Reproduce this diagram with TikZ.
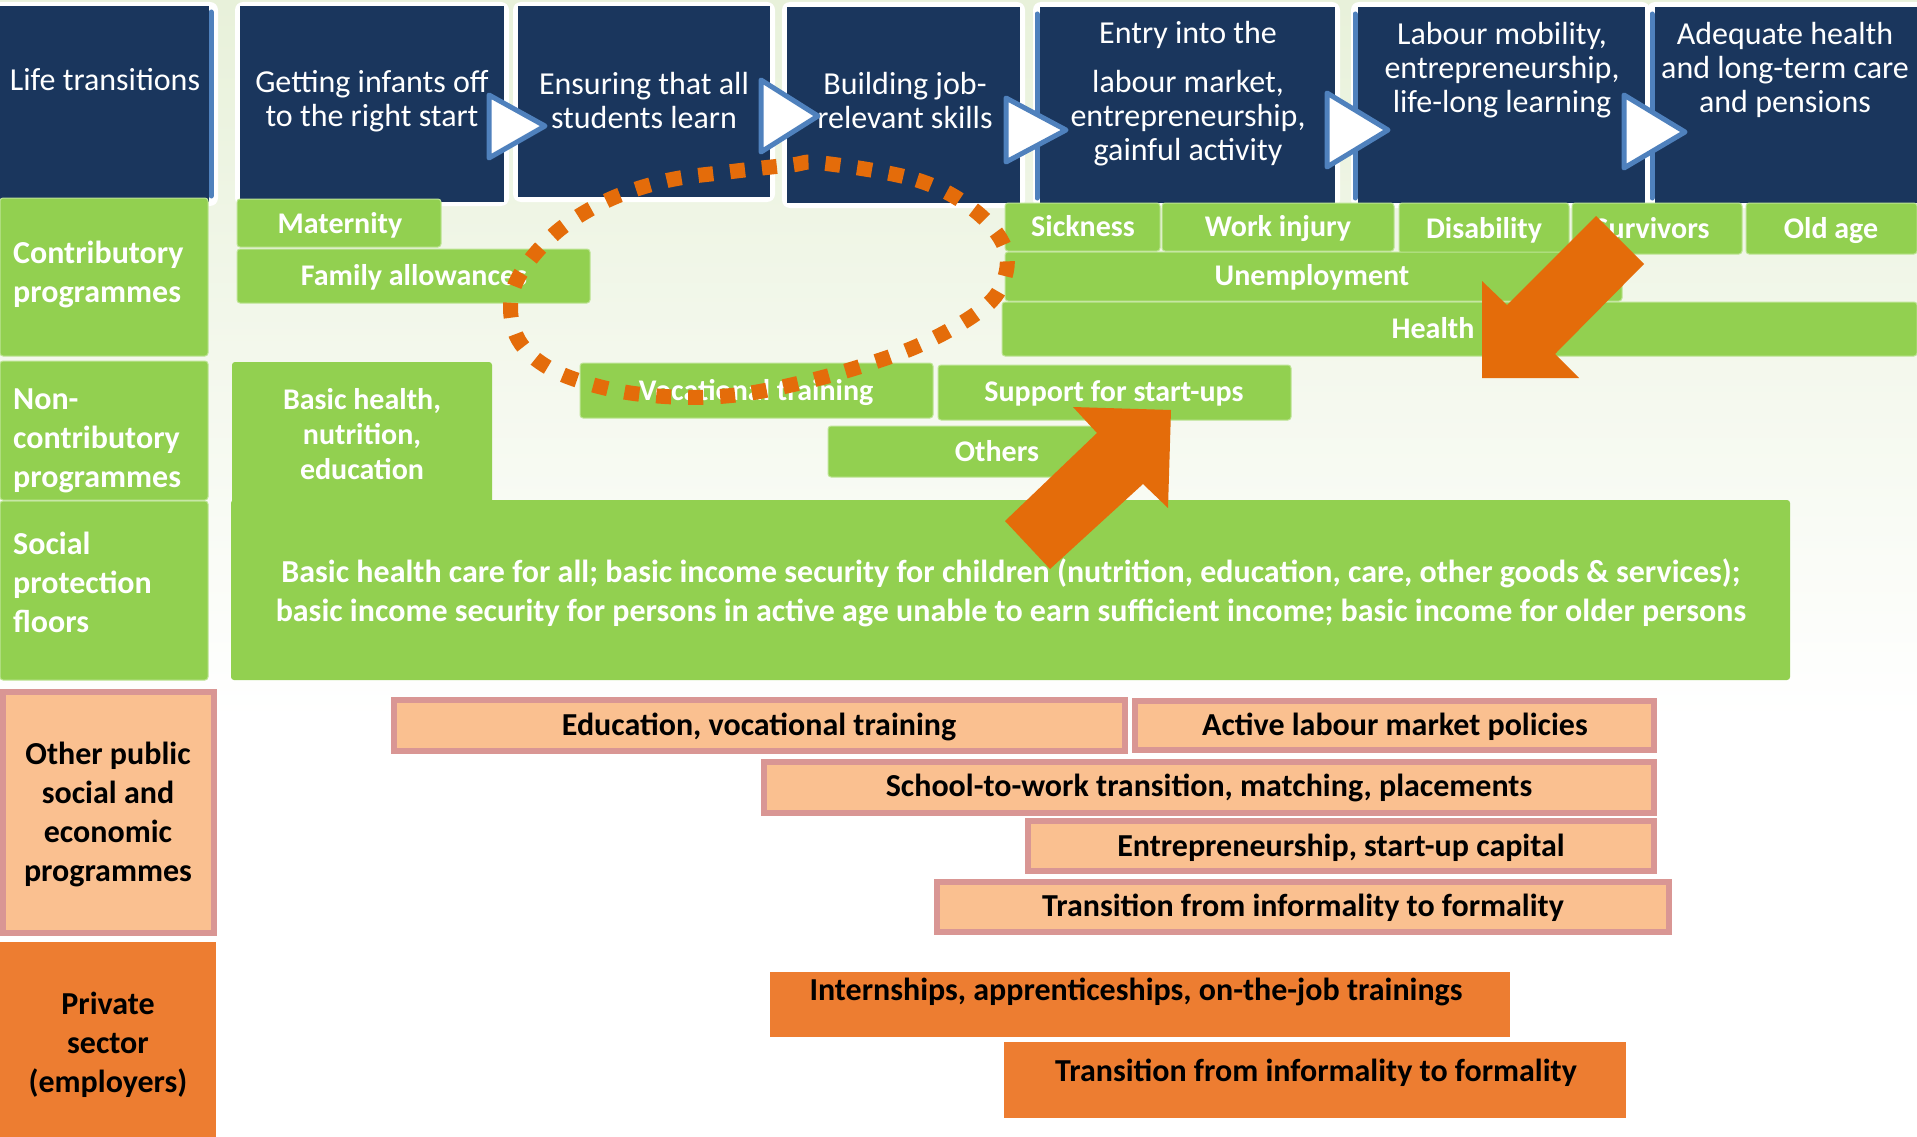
\documentclass[tikz,border=0pt]{standalone}
\usepackage{fontspec}
\setmainfont{Carlito}
\definecolor{navy}{RGB}{26,54,93}
\definecolor{grn}{RGB}{146,208,80}
\definecolor{grnedge}{RGB}{190,228,150}
\definecolor{salmon}{RGB}{250,192,144}
\definecolor{salmonedge}{RGB}{217,150,148}
\definecolor{orng}{RGB}{237,125,49}
\definecolor{arrorange}{RGB}{228,108,10}
\definecolor{triblue}{RGB}{79,129,189}
\definecolor{bgtop}{RGB}{232,241,218}
\newcommand\rbox[6]{\node[#1, anchor=north west, minimum width={(#5)-(#3)}, minimum height={(#6)-(#4)}] (#2) at (#3,#4) {};}
\tikzset{
 navybox/.style={fill=navy, draw=none, inner sep=0, outer sep=0},
 whitebg/.style={fill=white, draw=none, rounded corners=8pt, inner sep=0, outer sep=0},
 gbox/.style={fill=grn, draw=grnedge, line width=1pt, rounded corners=3pt, inner sep=0, outer sep=0},
 gfill/.style={fill=grn, draw=none, rounded corners=3pt, inner sep=0, outer sep=0},
 sbox/.style={fill=salmon, draw=salmonedge, line width=6pt, inner sep=0, outer sep=0},
 obox/.style={fill=orng, draw=none, inner sep=0, outer sep=0},
 hdrtxt/.style={text=white, font=\fontsize{32}{34}\selectfont, align=center, inner sep=0},
 lbltxt/.style={text=white, font=\bfseries\fontsize{32}{39}\selectfont, align=left, inner sep=0, anchor=west},
 gtxt/.style={text=white, font=\bfseries\fontsize{30}{35}\selectfont, align=center, inner sep=0},
 gtxtb/.style={gtxt, anchor=base},
 btxt/.style={text=black, font=\bfseries\fontsize{32}{39}\selectfont, align=center, inner sep=0},
 btxtb/.style={btxt, anchor=base},
 tri/.style={fill=white, draw=triblue, line width=5pt, line join=round},
 blueedge/.style={draw=triblue, line width=5pt, line cap=round},
 bigarrow/.style={fill=arrorange, draw=none},
 dots/.style={draw=arrorange, line width=15pt, dash pattern=on 15pt off 17pt}
}
\begin{document}
\begin{tikzpicture}[x=1pt,y=-1pt]
\useasboundingbox (0,0) rectangle (1917,1137);
\fill[white] (0,0) rectangle (1917,1137);
\shade[top color=bgtop, bottom color=white] (0,0) rectangle (1917,720);

% ---------- header ----------
\rbox{whitebg}{w1}{-10}{2}{218}{206}
\rbox{whitebg}{w2}{235}{2}{509}{206}
\rbox{whitebg}{w3}{513}{2}{775}{202}
\rbox{whitebg}{w4}{782}{2}{1025}{208}
\rbox{whitebg}{w5}{1033}{2}{1340}{208}
\rbox{whitebg}{w6}{1351}{2}{1650}{208}
\rbox{whitebg}{w7}{1647}{2}{1925}{208}
\draw[blueedge] (211,12) -- (211,196);
\draw[blueedge] (1037,14) -- (1037,198);
\draw[blueedge] (1355,14) -- (1355,198);
\draw[blueedge] (1652,14) -- (1652,198);
\rbox{navybox}{h1}{0}{6}{209}{202}
\rbox{navybox}{h2}{240}{6}{504}{202}
\rbox{navybox}{h3}{518}{6}{770}{197}
\rbox{navybox}{h4}{787}{7}{1020}{203}
\rbox{navybox}{h5}{1040}{7}{1335}{203}
\rbox{navybox}{h6}{1358}{7}{1645}{203}
\rbox{navybox}{h7}{1655}{7}{1917}{203}
\node[hdrtxt] (h1t) at (105,80) {Life transitions};
\node[hdrtxt] (h2t) at (372,101) {Getting infants off\\to the right start};
\node[hdrtxt] (h3t) at (644,101) {Ensuring that all\\students learn};
\node[hdrtxt] (h4t) at (905,101) {Building job-\\relevant skills};
\node[hdrtxt] (h5t) at (1188,94) {Entry into the\\[15pt]labour market,\\entrepreneurship,\\gainful activity};
\node[hdrtxt] (h6t) at (1502,70) {Labour mobility,\\entrepreneurship,\\life-long learning};
\node[hdrtxt] (h7t) at (1785,70) {Adequate health\\and long-term care\\and pensions};
\draw[tri] (489,95) -- (545,126) -- (489,158) -- cycle;
\draw[tri] (761,80) -- (818,116) -- (761,152) -- cycle;
\draw[tri] (1006,98) -- (1066,130) -- (1006,162) -- cycle;
\draw[tri] (1327,93) -- (1388,130) -- (1327,167) -- cycle;
\draw[tri] (1624,95) -- (1685,132) -- (1624,168) -- cycle;

% ---------- row labels ----------
\rbox{gbox}{cl}{0}{198}{208}{356}
\rbox{gbox}{nl}{0}{361}{208}{500}
\rbox{gbox}{sl}{0}{501}{208}{680}
\node[lbltxt] (clt) at (13,274) {Contributory\\programmes};
\node[lbltxt] (nlt) at (13,441) {Non-\\contributory\\programmes};
\node[lbltxt] (slt) at (13,582) {Social\\protection\\floors};

% ---------- contributory ----------
\rbox{gbox}{mat}{237}{199}{441}{247}
\rbox{gbox}{fam}{237}{249}{590}{303}
\rbox{gbox}{sick}{1005}{203}{1160}{251}
\rbox{gbox}{work}{1162}{203}{1394}{251}
\rbox{gbox}{dis}{1399}{203}{1569}{253}
\rbox{gbox}{unemp}{1005}{252}{1622}{301}
\rbox{gbox}{surv}{1572}{203}{1742}{254}
\rbox{gbox}{old}{1746}{203}{1917}{254}
\rbox{gbox}{health}{1002}{302}{1917}{356}
\node[gtxtb] (matt) at (340,233) {Maternity};
\node[gtxtb] (famt) at (414,285) {Family allowances};
\node[gtxtb] (sickt) at (1083,236) {Sickness};
\node[gtxtb] (workt) at (1278,236) {Work injury};
\node[gtxtb] (dist) at (1484,238) {Disability};
\node[gtxtb] (survt) at (1652,238) {Survivors};
\node[gtxtb] (oldt) at (1831,238) {Old age};
\node[gtxtb] (unempt) at (1312,285) {Unemployment};
\node[gtxtb] (healtht) at (1433,338) {Health};

% ---------- non-contributory + floors ----------
\rbox{gfill}{spf}{231}{500}{1790}{680}
\rbox{gfill}{bh}{232}{362}{492}{510}
\rbox{gbox}{voc}{580}{363}{933}{418}
\rbox{gbox}{sup}{938}{365}{1291}{420}
\rbox{gbox}{oth}{828}{426}{1166}{477}
\node[gtxt] (bht) at (362,434) {Basic health,\\nutrition,\\education};
\node[gtxtb] (voct) at (756,400) {Vocational training};
\node[gtxtb] (supt) at (1114,401) {Support for start-ups};
\node[gtxtb] (otht) at (997,461) {Others};
\node[gtxt, font=\bfseries\fontsize{32}{39}\selectfont] (spft) at (1011,593) {Basic health care for all; basic income security for children (nutrition, education, care, other goods \& services);\\basic income security for persons in active age unable to earn sufficient income; basic income for older persons};

% ---------- other public ----------
\rbox{sbox}{op}{3}{692}{214}{933}
\rbox{sbox}{edu}{394}{700}{1125}{751}
\rbox{sbox}{alm}{1135}{701}{1654}{750}
\rbox{sbox}{stw}{764}{762}{1654}{813}
\rbox{sbox}{ent}{1028}{821}{1654}{871}
\rbox{sbox}{tif}{937}{882}{1669}{932}
\node[btxt] (opt) at (108,814) {Other public\\social and\\economic\\programmes};
\node[btxtb] (edut) at (759,735) {Education, vocational training};
\node[btxtb] (almt) at (1395,735) {Active labour market policies};
\node[btxtb] (stwt) at (1209,796) {School-to-work transition, matching, placements};
\node[btxtb] (entt) at (1341,856) {Entrepreneurship, start-up capital};
\node[btxtb] (tift) at (1303,916) {Transition from informality to formality};

% ---------- private ----------
\rbox{obox}{ps}{0}{942}{216}{1137}
\rbox{obox}{intern}{770}{972}{1510}{1037}
\rbox{obox}{tif2}{1004}{1042}{1626}{1118}
\node[btxt] (pst) at (108,1045) {Private\\sector\\(employers)};
\node[btxtb] (internt) at (1136,1000) {Internships, apprenticeships, on-the-job trainings};
\node[btxtb] (tif2t) at (1316,1081) {Transition from informality to formality};

% ---------- dotted loop ----------
\draw[dots] plot[smooth cycle, tension=0.6] coordinates {(822,163) (917,180) (974,210) (1005,248) (1002,285) (977,313) (922,344) (862,366) (800,383) (736,395) (674,397) (609,389) (549,368) (516,335) (514,287) (551,237) (604,202) (665,181) (728,172) (791,165)};

% ---------- block arrows ----------
\fill[bigarrow] (1171,410) -- (1073,407) -- (1097,433) -- (1005,521) -- (1050,569) -- (1143,484) -- (1168,508) -- cycle;
\fill[bigarrow] (1482,378) -- (1482,281) -- (1507,305) -- (1596,216) -- (1644,264) -- (1555,354) -- (1579,378) -- cycle;
\end{tikzpicture}
\end{document}
